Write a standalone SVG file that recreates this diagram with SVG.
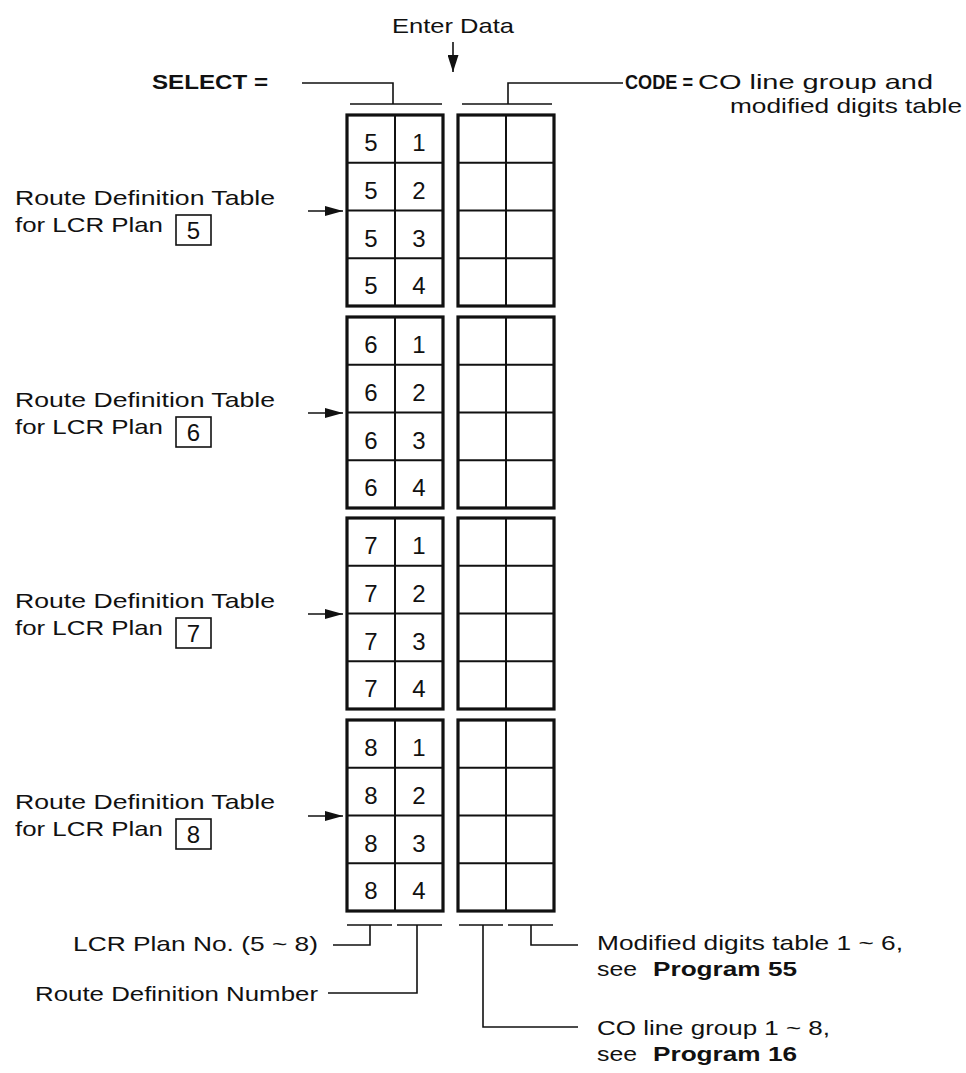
<svg xmlns="http://www.w3.org/2000/svg" width="966" height="1073" viewBox="0 0 966 1073">
<style>
text{font-family:"Liberation Sans",Arial,sans-serif;fill:#111}
.t{font-size:21px}
.b{font-size:20px;font-weight:bold}
.d{font-size:24px;text-anchor:middle}
.ln{stroke:#111;stroke-width:1.6;fill:none}
.outer{fill:#fff;stroke:#111;stroke-width:3.2}
.inner{stroke:#111;stroke-width:2;fill:none}
.box{fill:none;stroke:#111;stroke-width:1.6}
</style>
<defs>
<marker id="ah" markerWidth="18" markerHeight="10" refX="18" refY="5" orient="auto" markerUnits="userSpaceOnUse">
<path d="M0,0 L18,5 L0,10 Z" fill="#111"/>
</marker>
<marker id="ahd" markerWidth="17" markerHeight="11" refX="17" refY="5.5" orient="auto" markerUnits="userSpaceOnUse">
<path d="M0,0 L17,5.5 L0,11 Z" fill="#111"/>
</marker>
<g id="grid">
<rect class="outer" x="0" y="0" width="96" height="191"/>
<line class="inner" x1="48" y1="0" x2="48" y2="191"/>
<line class="inner" x1="0" y1="47.75" x2="96" y2="47.75"/>
<line class="inner" x1="0" y1="95.5" x2="96" y2="95.5"/>
<line class="inner" x1="0" y1="143.25" x2="96" y2="143.25"/>
</g>
</defs>

<g id="header-enter-data">
<text class="t" x="392" y="33" textLength="122" lengthAdjust="spacingAndGlyphs">Enter Data</text>
</g>
<g id="header-select">
<text class="b" x="152" y="89" textLength="116" lengthAdjust="spacingAndGlyphs">SELECT =</text>
</g>
<g id="header-code">
<text class="b" x="625" y="89" textLength="68" lengthAdjust="spacingAndGlyphs">CODE =</text>
<text class="t" x="698" y="89" textLength="235" lengthAdjust="spacingAndGlyphs">CO line group and</text>
<text class="t" x="730" y="113" textLength="232" lengthAdjust="spacingAndGlyphs">modified digits table</text>
</g>

<g id="plan5">
<text class="t" x="15" y="205" textLength="260" lengthAdjust="spacingAndGlyphs">Route Definition Table</text>
<text class="t" x="15" y="232" textLength="148" lengthAdjust="spacingAndGlyphs">for LCR Plan</text>
<rect class="box" x="176" y="215" width="35" height="30"/>
<text class="d" x="193.5" y="239">5</text>
<use href="#grid" x="347" y="115"/>
<use href="#grid" x="458" y="115"/>
<text class="d" x="371" y="151">5</text><text class="d" x="419" y="151">1</text>
<text class="d" x="371" y="198.75">5</text><text class="d" x="419" y="198.75">2</text>
<text class="d" x="371" y="246.5">5</text><text class="d" x="419" y="246.5">3</text>
<text class="d" x="371" y="294.25">5</text><text class="d" x="419" y="294.25">4</text>
</g>

<g id="plan6">
<text class="t" x="15" y="407" textLength="260" lengthAdjust="spacingAndGlyphs">Route Definition Table</text>
<text class="t" x="15" y="434" textLength="148" lengthAdjust="spacingAndGlyphs">for LCR Plan</text>
<rect class="box" x="176" y="417" width="35" height="30"/>
<text class="d" x="193.5" y="441">6</text>
<use href="#grid" x="347" y="317"/>
<use href="#grid" x="458" y="317"/>
<text class="d" x="371" y="353">6</text><text class="d" x="419" y="353">1</text>
<text class="d" x="371" y="400.75">6</text><text class="d" x="419" y="400.75">2</text>
<text class="d" x="371" y="448.5">6</text><text class="d" x="419" y="448.5">3</text>
<text class="d" x="371" y="496.25">6</text><text class="d" x="419" y="496.25">4</text>
</g>

<g id="plan7">
<text class="t" x="15" y="608" textLength="260" lengthAdjust="spacingAndGlyphs">Route Definition Table</text>
<text class="t" x="15" y="635" textLength="148" lengthAdjust="spacingAndGlyphs">for LCR Plan</text>
<rect class="box" x="176" y="618" width="35" height="30"/>
<text class="d" x="193.5" y="642">7</text>
<use href="#grid" x="347" y="518"/>
<use href="#grid" x="458" y="518"/>
<text class="d" x="371" y="554">7</text><text class="d" x="419" y="554">1</text>
<text class="d" x="371" y="601.75">7</text><text class="d" x="419" y="601.75">2</text>
<text class="d" x="371" y="649.5">7</text><text class="d" x="419" y="649.5">3</text>
<text class="d" x="371" y="697.25">7</text><text class="d" x="419" y="697.25">4</text>
</g>

<g id="plan8">
<text class="t" x="15" y="809" textLength="260" lengthAdjust="spacingAndGlyphs">Route Definition Table</text>
<text class="t" x="15" y="836" textLength="148" lengthAdjust="spacingAndGlyphs">for LCR Plan</text>
<rect class="box" x="176" y="819" width="35" height="30"/>
<text class="d" x="193.5" y="843">8</text>
<use href="#grid" x="347" y="720"/>
<use href="#grid" x="458" y="720"/>
<text class="d" x="371" y="756">8</text><text class="d" x="419" y="756">1</text>
<text class="d" x="371" y="803.75">8</text><text class="d" x="419" y="803.75">2</text>
<text class="d" x="371" y="851.5">8</text><text class="d" x="419" y="851.5">3</text>
<text class="d" x="371" y="899.25">8</text><text class="d" x="419" y="899.25">4</text>
</g>

<g id="label-plan-no">
<text class="t" x="73" y="951" textLength="245" lengthAdjust="spacingAndGlyphs">LCR Plan No. (5 ~ 8)</text>
</g>
<g id="label-route-number">
<text class="t" x="35" y="1001" textLength="283" lengthAdjust="spacingAndGlyphs">Route Definition Number</text>
</g>
<g id="label-modified">
<text class="t" x="597" y="950" textLength="306" lengthAdjust="spacingAndGlyphs">Modified digits table 1 ~ 6,</text>
<text class="t" x="597" y="976" textLength="40" lengthAdjust="spacingAndGlyphs">see</text>
<text class="b" x="653" y="976" textLength="144" lengthAdjust="spacingAndGlyphs">Program 55</text>
</g>
<g id="label-co-group">
<text class="t" x="597" y="1035" textLength="233" lengthAdjust="spacingAndGlyphs">CO line group 1 ~ 8,</text>
<text class="t" x="597" y="1061" textLength="40" lengthAdjust="spacingAndGlyphs">see</text>
<text class="b" x="653" y="1061" textLength="144" lengthAdjust="spacingAndGlyphs">Program 16</text>
</g>

<g id="connectors">
<line class="ln" x1="453" y1="42" x2="453" y2="72" marker-end="url(#ahd)"/>
<polyline class="ln" points="302,83 393,83 393,104"/>
<line class="ln" x1="350" y1="104" x2="442" y2="104"/>
<line class="ln" x1="462" y1="104" x2="552" y2="104"/>
<polyline class="ln" points="508,104 508,83 623,83"/>
<line class="ln" x1="308" y1="211" x2="343" y2="211" marker-end="url(#ah)"/>
<line class="ln" x1="308" y1="413" x2="343" y2="413" marker-end="url(#ah)"/>
<line class="ln" x1="308" y1="614" x2="343" y2="614" marker-end="url(#ah)"/>
<line class="ln" x1="308" y1="816" x2="343" y2="816" marker-end="url(#ah)"/>
<line class="ln" x1="347" y1="925" x2="392" y2="925"/>
<line class="ln" x1="397" y1="925" x2="442" y2="925"/>
<line class="ln" x1="459" y1="925" x2="503" y2="925"/>
<line class="ln" x1="508" y1="925" x2="553" y2="925"/>
<polyline class="ln" points="370,925 370,945 333,945"/>
<polyline class="ln" points="417,925 417,993 328,993"/>
<polyline class="ln" points="483,925 483,1027 578,1027"/>
<polyline class="ln" points="531,925 531,945 578,945"/>
</g>
</svg>
